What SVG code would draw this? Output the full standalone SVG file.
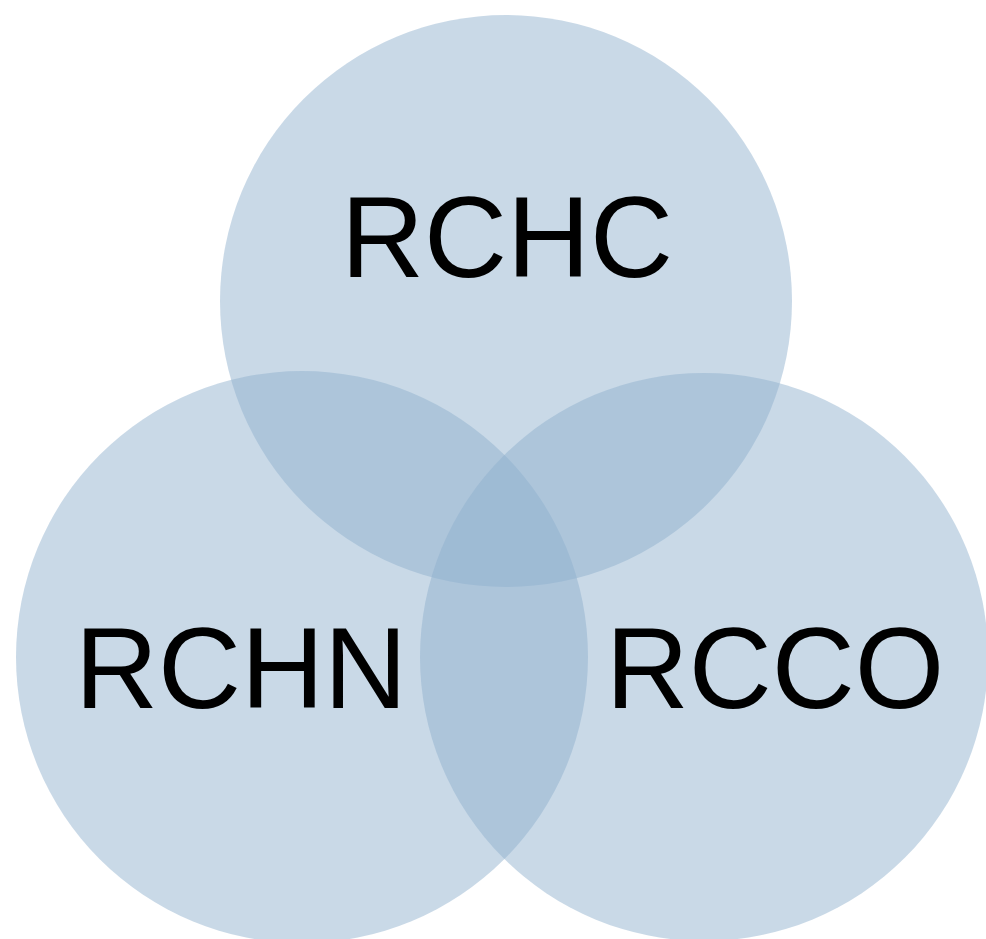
<svg xmlns="http://www.w3.org/2000/svg" width="986" height="939" viewBox="0 0 986 939">
  <style>
    .set { fill: #8fb0cd; fill-opacity: 0.48; stroke: none; }
    .lbl { font-family: "Liberation Sans", Arial, sans-serif; font-size: 115px; fill: #000; text-anchor: middle; }
  </style>
  <rect x="0" y="0" width="986" height="939" fill="#ffffff"/>
  <g id="node-rchc">
    <circle class="set" cx="506" cy="301" r="286"/>
  </g>
  <g id="node-rchn">
    <circle class="set" cx="302" cy="657" r="286"/>
  </g>
  <g id="node-rcco">
    <circle class="set" cx="704" cy="657" r="284"/>
  </g>
  <g id="labels">
    <text class="lbl" x="507" y="277">RCHC</text>
    <text class="lbl" x="241" y="708">RCHN</text>
    <text class="lbl" x="775" y="708">RCCO</text>
  </g>
  <g id="connectors"></g>
</svg>
